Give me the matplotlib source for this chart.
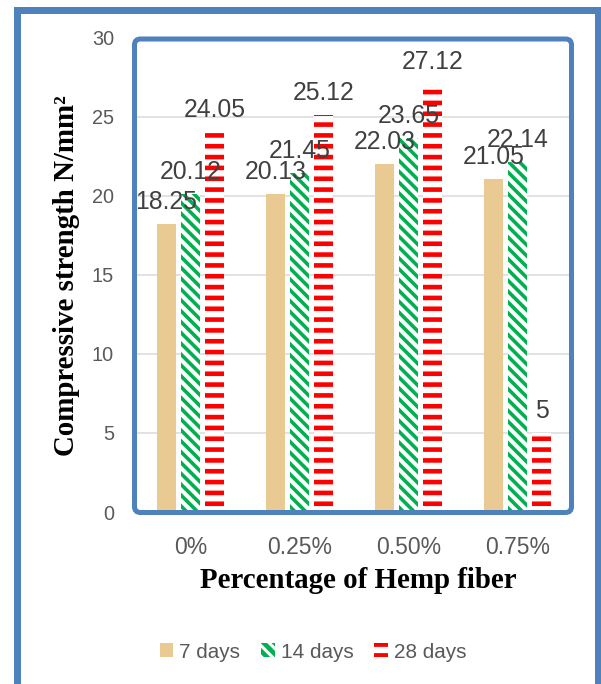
import matplotlib
matplotlib.use('Agg')
import matplotlib.pyplot as plt
from matplotlib.patches import FancyBboxPatch
from matplotlib.lines import Line2D
from matplotlib.transforms import IdentityTransform
import numpy as np

DPI = 130
W, H = 601, 684


def px(v):
    # pixels -> points at this dpi
    return v * 72.0 / DPI


# data
categories = ['0%', '0.25%', '0.50%', '0.75%']
days_7 = [18.25, 20.13, 22.03, 21.05]
days_14 = [20.12, 21.45, 23.65, 22.14]
days_28 = [24.05, 25.12, 27.12, 5]
series_names = ['7 days', '14 days', '28 days']

plt.rcParams['font.family'] = ['Liberation Sans', 'DejaVu Sans']

fig = plt.figure(figsize=(W / DPI, H / DPI), dpi=DPI)
ax = fig.add_axes([136 / W, 1 - 512 / H, 436 / W, 474 / H])

x = np.arange(len(categories))
width = 0.183
step = 0.22

back = chr(92)  # backslash, diagonal stripes
b1 = ax.bar(x - step, days_7, width, color='#E8CA92', linewidth=0, zorder=2)
plt.rcParams['hatch.linewidth'] = px(3.6)
b2 = ax.bar(x, days_14, width, facecolor='white', edgecolor='#00B050',
            hatch=back * 4, linewidth=0, zorder=2)
plt.rcParams['hatch.linewidth'] = px(4.6)
b3 = ax.bar(x + step, days_28, width, facecolor='white', edgecolor='#FF0000',
            hatch='--', linewidth=0, zorder=2)

# value labels above bars
for bars, vals in [(b1, days_7), (b2, days_14), (b3, days_28)]:
    for rect, v in zip(bars, vals):
        ax.annotate(f'{v:g}', (rect.get_x() + rect.get_width() / 2, v),
                    xytext=(0, px(15)), textcoords='offset points',
                    ha='center', va='baseline', fontsize=13.7,
                    color='#404040', zorder=5)

ax.set_xlim(-0.5, 3.5)
ax.set_ylim(0, 30)
ax.set_yticks(range(0, 31, 5))
ax.set_xticks(x, categories)
ax.tick_params(axis='y', length=0, pad=px(22), labelsize=11, labelcolor='#595959')
ax.tick_params(axis='x', length=0, pad=px(24), labelsize=12.7, labelcolor='#595959')
ax.yaxis.grid(True, color='#D9D9D9', linewidth=px(1.5))
ax.set_axisbelow(True)
for s in ax.spines.values():
    s.set_visible(False)

# axis titles
fig.text(358 / W, 1 - 580 / H, 'Percentage of Hemp fiber', ha='center', va='center',
         family='Liberation Serif', weight='bold', fontsize=16, color='black')
fig.text(67 / W, 1 - 276 / H, 'Compressive strength N/mm²', ha='center', va='center',
         rotation=90, family='Liberation Serif', weight='bold', fontsize=16, color='black')

# rounded frame around the plot area
frame = FancyBboxPatch((134.5, H - 512.5), 571.5 - 134.5, 512.5 - 39,
                       boxstyle='round,pad=0,rounding_size=6',
                       transform=IdentityTransform(), fill=False,
                       edgecolor='#4F81BD', linewidth=px(5), zorder=10)
fig.patches.append(frame)

# outer border (left, top, right)
outer = Line2D([16.5, 16.5, 598, 598], [0, H - 9.5, H - 9.5, 0],
               transform=IdentityTransform(), color='#4F81BD',
               linewidth=px(7), solid_joinstyle='miter')
fig.lines.append(outer)

fig.legend(handles=[b1, b2, b3], labels=series_names, loc='center',
           bbox_to_anchor=(313 / W, 1 - 652 / H), ncol=3, frameon=False,
           fontsize=11.5, handlelength=0.65, handleheight=0.65,
           handletextpad=0.3, columnspacing=1.0, labelcolor='#595959')

fig.savefig('out.png', dpi=DPI)
